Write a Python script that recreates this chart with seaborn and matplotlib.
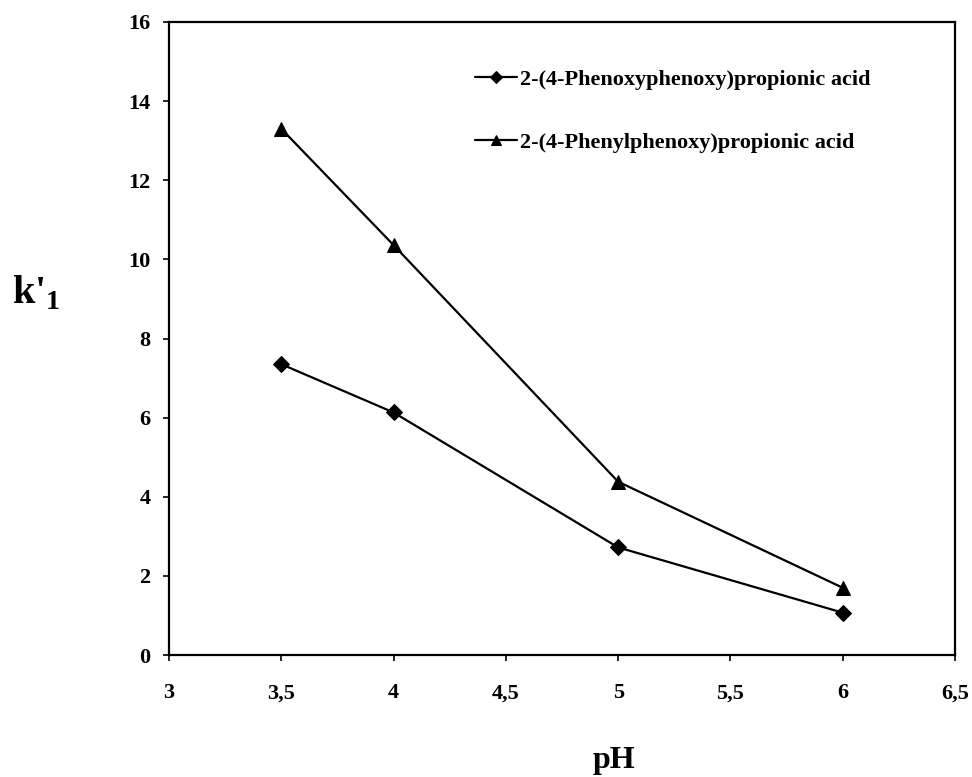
import matplotlib
matplotlib.use("Agg")
import matplotlib.pyplot as plt
import seaborn as sns
import pandas as pd

ph = [3.5, 4, 5, 6]
phenoxyphenoxy = [7.35, 6.13, 2.72, 1.07]
phenylphenoxy = [13.3, 10.36, 4.38, 1.7]
series_names = ["2-(4-Phenoxyphenoxy)propionic acid",
                "2-(4-Phenylphenoxy)propionic acid"]
x_ticks = [3, 3.5, 4, 4.5, 5, 5.5, 6, 6.5]
x_tick_labels = ["3", "3,5", "4", "4,5", "5", "5,5", "6", "6,5"]
y_ticks = [0, 2, 4, 6, 8, 10, 12, 14, 16]

df = pd.DataFrame({
    "pH": ph * 2,
    "k": phenoxyphenoxy + phenylphenoxy,
    "compound": [series_names[0]] * len(ph) + [series_names[1]] * len(ph),
})

sns.set_style("ticks")
plt.rcParams["font.family"] = ["Liberation Serif", "DejaVu Serif"]
plt.rcParams["font.weight"] = "bold"
plt.rcParams["text.color"] = "black"
plt.rcParams["axes.labelcolor"] = "black"
plt.rcParams["xtick.color"] = "black"
plt.rcParams["ytick.color"] = "black"
plt.rcParams["mathtext.fontset"] = "custom"
plt.rcParams["mathtext.rm"] = "Liberation Serif:bold"
plt.rcParams["mathtext.bf"] = "Liberation Serif:bold"

fig = plt.figure(figsize=(9.72, 7.77), dpi=100)
ax = fig.add_axes([0.1739, 0.1570, 0.8086, 0.8147])

sns.lineplot(data=df, x="pH", y="k", hue="compound", style="compound",
             palette=["black", "black"], markers=["D", "^"], dashes=False,
             markersize=10, linewidth=1.6, markeredgecolor="black",
             ax=ax, legend=True)
# slightly smaller diamonds than triangles
for line in ax.lines:
    if line.get_marker() == "D":
        line.set_markersize(8.5)

ax.set_xlim(3, 6.5)
ax.set_ylim(0, 16)
ax.set_xticks(x_ticks)
ax.set_xticklabels(x_tick_labels)
ax.set_yticks(y_ticks)
ax.tick_params(axis="both", labelsize=16, direction="out", length=4.5,
               width=1.2, colors="black")
ax.tick_params(axis="x", pad=16)
ax.tick_params(axis="y", pad=9)
for lab in ax.get_xticklabels() + ax.get_yticklabels():
    lab.set_fontweight("bold")
for sp in ax.spines.values():
    sp.set_linewidth(1.6)
    sp.set_color("black")

ax.set_xlabel("")
ax.set_ylabel("")
fig.text(0.632, 0.0116, "pH", fontsize=23, fontweight="bold",
         color="black", ha="center", va="baseline")
fig.text(0.0123, 0.609, r"k'$_{\mathbf{1}}$", fontsize=29, fontweight="bold",
         color="black", ha="left", va="baseline")

leg = ax.legend(loc="upper left", bbox_to_anchor=(0.389, 0.925),
                frameon=False, borderaxespad=0, borderpad=0,
                prop={"size": 16, "weight": "bold"}, handlelength=1.9,
                handletextpad=0.15, labelspacing=1.9, markerscale=0.75)
for t in leg.get_texts():
    t.set_color("black")

fig.savefig("out.png", dpi=100, facecolor="white")
